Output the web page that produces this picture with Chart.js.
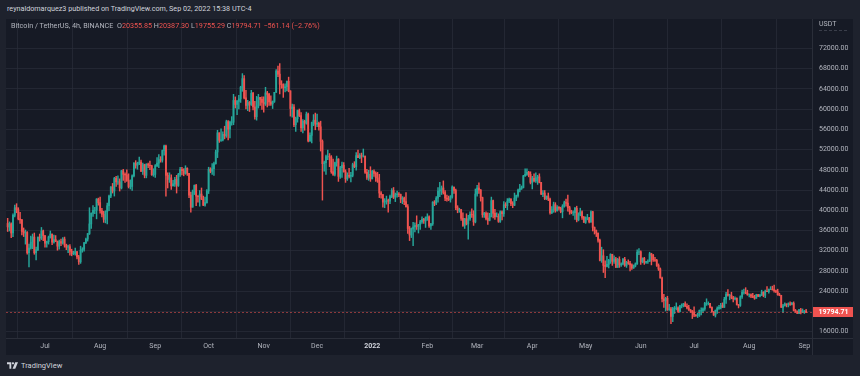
<!DOCTYPE html>
<html><head><meta charset="utf-8">
<script src="https://cdn.jsdelivr.net/npm/chart.js@4.4.1/dist/chart.umd.min.js"></script>
<style>
html,body{margin:0;padding:0;}
body{width:860px;height:376px;background:#1e222d;overflow:hidden;position:relative;font-family:Roboto,"Noto Sans",sans-serif;}
#hdr{position:absolute;left:7px;top:4px;font-size:7.2px;line-height:10px;color:#d1d4dc;white-space:nowrap;}
#panel{position:absolute;left:6px;top:19px;width:847px;height:336px;background:#161a25;}
#wrap{position:absolute;left:6px;top:19px;width:847px;height:336px;}
#legend{position:absolute;left:11px;top:21px;font-size:7.2px;line-height:9px;color:#b2b5be;white-space:nowrap;}
#legend .v{color:#ef5350;}
#usdt{position:absolute;left:819px;top:20px;font-size:7px;line-height:8px;color:#b2b5be;width:28px;padding-bottom:2px;border-bottom:1px dashed #3a3e4a;}
#foot{position:absolute;left:7px;top:361px;height:9px;display:flex;align-items:center;color:#d1d4dc;font-size:7.5px;white-space:nowrap;}
#foot svg{margin-right:3px;}
</style></head>
<body>
<div id="hdr">reynaldomarquez3 published on TradingView.com, Sep 02, 2022 15:38 UTC-4</div>
<div id="panel"></div>
<div id="wrap"><canvas id="c" width="847" height="336"></canvas></div>
<div id="legend">Bitcoin / TetherUS, 4h, BINANCE&nbsp;&nbsp;O<span class="v">20355.85</span> H<span class="v">20387.30</span> L<span class="v">19755.29</span> C<span class="v">19794.71</span> <span class="v">−561.14 (−2.76%)</span></div>
<div id="usdt">USDT</div>
<div id="foot"><svg width="11" height="7" viewBox="0 0 36 22"><path fill="#d1d4dc" d="M0 0h14v22H8V7H0z"/><circle fill="#d1d4dc" cx="19.5" cy="3.8" r="3.8"/><path fill="#d1d4dc" d="M27 0h9l-9 22h-9z"/></svg>TradingView</div>
<script>
// ---- data (prices in thousands of USDT), one daily candle per day starting at firstDay ----
const UNIT = 1000;
const firstDay = '2021-06-10';
const open = [
 37.4,36.7,37.3,35.5,39.0,40.5,40.1,38.3,38.1,35.8,35.5,35.6,31.6,32.5,33.7,34.7,31.6,32.2,34.7,34.5,35.9,
 35.0,33.5,33.8,34.7,35.3,33.7,34.2,33.9,32.9,33.8,33.5,34.3,33.1,32.7,32.8,31.9,31.4,31.5,31.8,30.8,29.8,32.1,32.3,33.6,34.3,35.4,37.3,39.4,40.0,40.0,42.2,
 41.5,39.9,39.2,38.2,39.7,40.9,42.8,44.6,43.8,46.3,45.6,45.6,44.4,47.8,47.1,47.0,45.9,44.7,44.7,46.8,49.3,48.9,49.3,49.5,47.7,49.0,46.9,49.1,48.9,48.8,47.0,
 47.1,48.8,49.3,50.0,49.9,51.8,52.7,46.9,46.1,46.4,44.8,45.2,46.1,44.9,47.1,48.1,47.8,47.3,48.3,47.3,43.0,40.6,43.6,44.9,42.8,42.7,43.2,42.2,41.0,41.5,
 43.8,48.1,47.7,48.2,49.2,51.5,55.3,53.8,53.9,55.0,54.7,57.5,56.0,57.4,57.4,61.7,60.9,61.5,62.0,64.3,66.0,62.2,60.7,61.3,60.9,63.1,60.4,58.5,60.6,62.3,61.9,
 61.3,61.0,63.2,62.9,61.4,61.0,61.5,63.3,67.5,66.9,64.9,64.8,64.2,64.4,65.5,63.6,60.1,60.4,56.9,58.1,59.7,58.7,56.3,57.6,57.2,59.0,53.7,54.8,57.3,57.8,
 57.0,57.2,56.5,53.6,49.2,49.4,50.6,50.6,50.5,47.6,47.1,49.4,50.1,46.7,48.4,48.9,47.6,46.2,46.9,46.7,46.9,49.0,48.6,50.8,50.4,50.8,50.7,50.7,47.5,46.5,47.1,
 46.2,47.7,47.3,46.4,45.8,43.4,43.1,41.6,41.7,41.9,41.8,42.7,43.9,42.6,43.1,43.2,43.1,42.2,42.4,41.7,40.7,36.4,35.1,36.3,36.7,37.0,36.8,37.2,37.7,38.2,37.9,
 38.5,38.7,36.9,37.3,41.6,41.4,42.4,43.8,44.0,44.4,43.5,42.4,42.2,42.1,42.6,44.6,43.9,40.5,40.0,40.1,38.4,37.0,38.3,37.3,38.3,39.2,39.1,37.7,
 43.2,44.4,44.0,42.5,39.1,39.4,38.4,38.0,38.7,41.9,39.4,38.7,38.8,37.8,39.7,39.3,41.1,40.9,41.8,42.2,41.3,41.0,42.4,42.9,44.0,44.3,44.5,46.8,47.1,47.5,47.1,
 45.5,46.3,45.8,46.4,46.6,45.5,43.2,43.4,42.3,42.8,42.2,39.5,40.1,41.1,39.9,40.6,40.4,39.7,40.8,41.5,41.4,40.5,39.7,39.5,39.5,40.4,38.1,39.2,39.7,38.6,
 37.6,38.5,38.5,37.7,39.7,36.6,36.0,35.5,34.1,30.1,31.0,29.1,28.9,29.3,30.1,31.3,29.9,30.4,28.7,30.3,29.2,29.4,30.3,29.1,29.7,29.5,29.2,28.6,29.0,29.4,31.7,
 31.8,29.8,30.5,29.7,29.9,29.9,31.4,31.1,30.2,30.1,29.1,28.4,26.6,22.5,22.1,22.6,20.4,20.5,19.0,20.6,20.6,20.7,20.0,21.1,21.2,21.5,21.0,20.7,20.3,20.1,
 19.9,19.3,19.2,19.3,20.2,20.2,20.5,21.6,21.6,21.6,20.8,19.9,19.3,20.2,20.6,20.8,21.2,20.8,22.4,23.4,23.2,23.2,22.7,22.5,22.6,21.3,21.2,22.9,23.8,23.8,23.6,
 23.3,23.3,23.0,22.8,22.6,23.3,23.0,23.2,23.8,23.2,24.0,23.9,24.4,24.4,24.3,24.1,23.9,23.3,23.2,20.8,21.1,21.5,21.4,21.5,21.4,21.6,20.2,20.0,19.6,20.3,19.8,
 20.05,20.1
];
const high = [
 38.4,37.7,37.5,39.3,41.0,41.3,40.5,39.6,38.2,36.5,36.1,35.8,33.3,34.9,35.3,35.5,32.7,34.7,35.3,36.6,36.1,
 35.0,33.9,34.9,35.9,35.3,35.1,35.0,33.9,34.1,34.3,34.6,34.7,33.3,33.1,33.2,32.3,31.9,32.5,31.9,31.1,32.9,32.6,33.6,34.5,35.4,40.5,39.5,40.9,40.6,42.3,42.4,
 42.6,40.4,39.8,39.9,41.4,43.0,44.7,45.3,46.5,46.7,46.8,46.2,47.9,48.1,47.4,48.0,47.2,46.0,47.0,49.4,49.8,49.5,50.5,49.9,49.3,49.1,49.2,49.3,49.7,48.9,48.2,
 49.0,50.4,51.0,50.6,51.9,52.9,52.9,47.4,47.4,47.0,45.9,46.5,46.9,47.3,48.5,48.5,48.2,48.8,48.4,47.3,43.6,44.0,45.0,45.1,42.9,43.9,44.4,42.8,42.6,44.1,
 48.5,48.4,49.2,49.5,51.9,55.8,55.3,56.1,55.5,56.6,57.8,57.7,57.6,58.5,62.9,62.4,61.7,62.7,64.5,67.0,66.6,63.7,61.7,61.5,63.7,63.3,61.5,62.5,62.9,62.3,62.4,
 62.4,64.3,63.5,63.1,62.6,61.6,63.3,67.8,68.5,69.0,65.6,65.0,65.0,65.5,66.3,63.6,61.0,60.9,58.4,59.8,60.0,59.3,57.9,57.8,59.4,59.2,55.3,57.4,58.9,59.2,
 59.0,57.4,57.6,53.9,49.7,50.9,51.9,51.2,50.8,50.1,49.5,50.7,50.2,48.7,49.5,49.4,48.0,47.4,48.3,47.5,49.3,49.6,51.4,51.9,51.2,51.3,52.1,50.7,48.1,47.9,48.6,
 47.9,48.0,47.6,47.5,47.1,43.7,43.1,42.3,42.8,42.2,43.0,44.3,44.5,43.4,43.8,43.5,43.2,42.7,42.6,43.5,41.1,36.8,36.5,37.6,37.5,38.9,37.2,38.0,38.7,38.4,38.7,
 39.3,38.9,37.4,41.7,41.9,42.7,44.5,45.5,44.8,45.8,43.9,43.0,42.8,42.9,44.8,44.6,44.2,40.9,40.4,40.2,39.5,38.4,39.3,39.0,39.7,40.3,39.9,44.2,
 44.9,45.4,44.1,42.6,39.6,39.7,39.5,39.4,42.6,42.0,40.2,39.5,39.3,39.9,39.9,41.7,41.5,42.3,42.4,42.3,41.7,43.4,43.0,44.2,45.1,44.8,46.9,48.2,48.2,47.7,47.6,
 46.7,47.2,47.4,46.9,47.2,45.5,43.9,43.9,42.8,43.4,42.4,40.7,41.6,41.5,40.9,40.7,40.6,41.1,41.8,42.2,43.0,40.8,40.0,39.9,40.6,40.8,39.5,40.4,39.9,38.8,
 38.7,39.2,38.6,39.9,39.8,36.7,36.1,35.5,34.3,32.7,32.2,30.0,30.9,30.3,31.4,31.3,31.0,30.7,30.5,30.8,29.6,30.5,30.7,29.9,30.2,29.9,29.4,29.2,29.6,32.2,32.4,
 32.0,30.6,30.7,29.9,30.2,31.7,31.5,31.3,30.7,30.3,29.4,28.6,26.8,23.4,22.8,23.0,21.4,20.8,20.8,21.0,21.7,20.9,21.2,21.5,21.6,21.9,21.5,21.2,20.4,20.2,
 20.9,19.4,19.7,20.3,20.7,20.7,21.8,22.5,21.9,21.6,20.9,20.0,20.3,20.9,21.2,21.6,21.7,22.8,23.8,24.3,23.4,23.8,23.0,22.9,22.7,21.4,23.1,24.2,24.4,24.7,24.2,
 23.5,23.5,23.6,23.2,23.4,23.4,23.4,24.2,23.9,24.2,24.9,24.4,24.9,25.0,25.2,24.2,24.4,23.6,23.2,21.4,21.7,21.5,21.7,21.9,21.8,21.9,20.4,20.1,20.4,20.6,20.5,
 20.2,20.4
];
const low = [
 35.8,35.9,34.6,34.8,38.7,39.5,38.1,37.4,35.1,34.8,33.3,31.3,28.8,32.3,32.4,31.3,30.2,32.0,33.9,34.2,34.0,
 32.7,32.7,33.3,34.5,33.2,33.5,33.8,32.1,32.3,33.0,33.3,32.7,32.2,31.6,31.1,31.0,31.2,31.1,30.4,29.3,29.5,31.7,31.9,33.4,33.9,35.2,36.4,38.8,39.3,38.3,41.0,
 39.4,38.7,37.6,37.5,37.3,39.9,42.5,43.4,42.8,44.7,45.1,43.8,44.2,45.9,45.5,45.7,44.4,44.2,43.9,46.6,48.3,48.1,49.0,47.6,47.1,46.4,46.4,48.4,48.0,46.9,46.7,
 46.5,48.6,48.4,49.5,49.5,50.9,42.8,44.4,45.5,44.1,44.8,44.7,43.4,44.7,46.7,47.0,46.8,47.1,46.9,42.5,39.6,40.6,43.1,40.9,41.6,40.8,42.1,40.9,40.8,41.4,
 43.3,47.4,47.1,46.9,49.1,50.4,53.4,53.6,53.7,54.1,54.4,53.9,54.3,56.8,56.9,60.2,58.9,60.0,61.3,63.5,62.0,60.0,59.7,59.5,60.7,59.8,58.0,57.8,60.2,60.7,59.9,
 59.4,60.7,60.4,60.7,60.7,60.1,61.3,63.3,66.4,63.0,64.1,62.3,63.4,63.6,63.4,58.6,58.4,56.5,55.6,57.4,58.5,55.6,55.3,55.8,57.0,53.5,53.6,53.3,56.7,55.9,
 56.5,55.8,51.7,42.0,47.7,47.1,50.0,48.6,47.3,46.9,46.8,48.7,45.7,46.3,46.5,47.5,45.5,45.9,46.4,45.6,46.6,48.4,47.9,50.4,50.2,49.4,50.5,47.3,46.1,45.9,45.7,
 46.2,46.7,45.7,45.5,42.5,42.4,40.6,40.5,41.2,39.6,41.3,42.5,42.3,41.7,42.6,42.7,41.5,41.3,41.1,40.6,35.4,34.0,34.6,33.0,35.7,36.2,35.5,36.2,37.4,37.4,36.6,
 38.0,36.6,36.2,37.0,40.9,41.1,41.6,42.7,43.1,43.2,41.9,41.8,41.9,41.6,42.4,43.3,40.1,39.5,39.6,38.0,36.8,36.4,37.1,34.3,38.0,38.6,37.0,37.5,
 42.8,43.3,41.8,38.6,38.6,38.1,37.2,37.9,38.7,38.5,38.2,38.7,37.6,37.6,38.1,38.8,40.5,40.1,41.5,40.9,40.5,40.9,41.9,42.6,43.6,44.1,44.4,46.7,46.9,46.6,45.2,
 44.2,45.6,45.5,45.1,45.4,43.1,42.7,42.1,42.1,41.9,39.2,39.3,39.6,39.6,39.8,40.0,39.5,38.5,40.6,40.8,39.8,39.2,39.3,39.0,38.2,37.7,37.9,38.9,38.2,37.6,
 37.4,38.1,37.5,37.6,35.9,35.3,34.8,33.7,30.0,29.7,27.7,26.7,28.8,28.6,29.5,29.1,29.5,28.7,28.7,28.7,28.9,29.2,28.9,28.7,29.3,28.0,28.3,28.5,28.8,29.3,31.2,
 29.3,29.6,29.3,29.5,29.5,29.9,29.2,29.9,29.9,28.9,28.1,26.6,21.9,20.8,20.1,20.2,20.2,17.6,18.0,19.6,20.3,19.8,19.9,20.7,20.9,21.0,20.5,20.2,19.8,18.6,
 18.97,19.0,18.8,19.0,19.3,19.8,20.2,21.2,21.3,20.7,19.9,19.2,18.9,19.6,20.4,20.5,20.8,20.8,21.6,23.0,22.3,22.5,21.9,22.3,21.3,20.7,21.0,22.6,23.4,23.5,23.2,
 22.85,22.7,22.7,22.4,22.6,22.9,22.85,23.15,22.9,22.7,23.9,23.6,24.3,24.2,23.8,23.7,23.2,23.1,20.8,19.8,21.1,20.9,20.9,21.2,21.3,20.1,19.8,19.6,19.55,19.5,19.8,
 19.6,19.75
];
const close = [
 36.7,37.3,35.5,39.0,40.5,40.1,38.3,38.1,35.8,35.5,35.6,31.6,32.5,33.7,34.7,31.6,32.2,34.7,34.5,35.9,35.0,
 33.5,33.8,34.7,35.3,33.7,34.2,33.9,32.9,33.8,33.5,34.3,33.1,32.7,32.8,31.9,31.4,31.5,31.8,30.8,29.8,32.1,32.3,33.6,34.3,35.4,37.3,39.4,40.0,40.0,42.2,41.5,
 39.9,39.2,38.2,39.7,40.9,42.8,44.6,43.8,46.3,45.6,45.6,44.4,47.8,47.1,47.0,45.9,44.7,44.7,46.8,49.3,48.9,49.3,49.5,47.7,49.0,46.9,49.1,48.9,48.8,47.0,47.1,
 48.8,49.3,50.0,49.9,51.8,52.7,46.9,46.1,46.4,44.8,45.2,46.1,44.9,47.1,48.1,47.8,47.3,48.3,47.3,43.0,40.6,43.6,44.9,42.8,42.7,43.2,42.2,41.0,41.5,43.8,
 48.1,47.7,48.2,49.2,51.5,55.3,53.8,53.9,55.0,54.7,57.5,56.0,57.4,57.4,61.7,60.9,61.5,62.0,64.3,66.0,62.2,60.7,61.3,60.9,63.1,60.4,58.5,60.6,62.3,61.9,61.3,
 61.0,63.2,62.9,61.4,61.0,61.5,63.3,67.5,66.9,64.9,64.8,64.2,64.4,65.5,63.6,60.1,60.4,56.9,58.1,59.7,58.7,56.3,57.6,57.2,59.0,53.7,54.8,57.3,57.8,57.0,
 57.2,56.5,53.6,49.2,49.4,50.6,50.6,50.5,47.6,47.1,49.4,50.1,46.7,48.4,48.9,47.6,46.2,46.9,46.7,46.9,49.0,48.6,50.8,50.4,50.8,50.7,50.7,47.5,46.5,47.1,46.2,
 47.7,47.3,46.4,45.8,43.4,43.1,41.6,41.7,41.9,41.8,42.7,43.9,42.6,43.1,43.2,43.1,42.2,42.4,41.7,40.7,36.4,35.1,36.3,36.7,37.0,36.8,37.2,37.7,38.2,37.9,38.5,
 38.7,36.9,37.3,41.6,41.4,42.4,43.8,44.0,44.4,43.5,42.4,42.2,42.1,42.6,44.6,43.9,40.5,40.0,40.1,38.4,37.0,38.3,37.3,38.3,39.2,39.1,37.7,43.2,
 44.4,44.0,42.5,39.1,39.4,38.4,38.0,38.7,41.9,39.4,38.7,38.8,37.8,39.7,39.3,41.1,40.9,41.8,42.2,41.3,41.0,42.4,42.9,44.0,44.3,44.5,46.8,47.1,47.5,47.1,45.5,
 46.3,45.8,46.4,46.6,45.5,43.2,43.4,42.3,42.8,42.2,39.5,40.1,41.1,39.9,40.6,40.4,39.7,40.8,41.5,41.4,40.5,39.7,39.5,39.5,40.4,38.1,39.2,39.7,38.6,37.6,
 38.5,38.5,37.7,39.7,36.6,36.0,35.5,34.1,30.1,31.0,29.1,28.9,29.3,30.1,31.3,29.9,30.4,28.7,30.3,29.2,29.4,30.3,29.1,29.7,29.5,29.2,28.6,29.0,29.4,31.7,31.8,
 29.8,30.5,29.7,29.9,29.9,31.4,31.1,30.2,30.1,29.1,28.4,26.6,22.5,22.1,22.6,20.4,20.5,19.0,20.6,20.6,20.7,20.0,21.1,21.2,21.5,21.0,20.7,20.3,20.1,19.9,
 19.3,19.2,19.3,20.2,20.2,20.5,21.6,21.6,21.6,20.8,19.9,19.3,20.2,20.6,20.8,21.2,20.8,22.4,23.4,23.2,23.2,22.7,22.5,22.6,21.3,21.2,22.9,23.8,23.8,23.6,23.3,
 23.3,23.0,22.8,22.6,23.3,23.0,23.2,23.8,23.2,24.0,23.9,24.4,24.4,24.3,24.1,23.9,23.3,23.2,20.8,21.1,21.5,21.4,21.5,21.4,21.6,20.2,20.0,19.6,20.3,19.8,20.05,
 20.1,19.79471
];
const tickDates  = ['2021-07-01','2021-08-01','2021-09-01','2021-10-01','2021-11-01','2021-12-01','2022-01-01','2022-02-01','2022-03-01','2022-04-01','2022-05-01','2022-06-01','2022-07-01','2022-08-01','2022-09-01'];
const tickLabels = ['Jul','Aug','Sep','Oct','Nov','Dec','2022','Feb','Mar','Apr','May','Jun','Jul','Aug','Sep'];
const priceTicks = [16000,20000,24000,28000,32000,36000,40000,44000,48000,52000,56000,60000,64000,68000,72000];

// ---- styling ----
const UP = '#26a69a', DOWN = '#ef5350', GRID = 'rgba(42,46,57,0.7)', SEP = '#2a2e39';
const dayOf = s => Math.round((Date.parse(s) - Date.parse(firstDay)) / 86400000);
const tickDays = tickDates.map(dayOf);
const yearTick = dayOf('2022-01-01');
const colors = close.map((c, i) => c >= open[i] ? UP : DOWN);

const wicks = close.map((c, i) => ({x: i, y: [low[i] * UNIT, high[i] * UNIT]}));
const bodies = close.map((c, i) => ({x: i, y: [open[i] * UNIT, close[i] * UNIT]}));

const framePlugin = {
  id: 'frame',
  afterDraw(chart) {
    const {ctx, chartArea: a, width, height, scales: {y}} = chart;
    ctx.save();
    ctx.strokeStyle = SEP; ctx.lineWidth = 1;
    ctx.beginPath();
    ctx.moveTo(Math.round(a.right) + 0.5, 0); ctx.lineTo(Math.round(a.right) + 0.5, height);
    ctx.moveTo(0, Math.round(a.bottom) + 0.5); ctx.lineTo(width, Math.round(a.bottom) + 0.5);
    ctx.stroke();
    // last price line and label
    const v = close[close.length - 1] * UNIT;
    const py = Math.round(y.getPixelForValue(v)) + 0.5;
    ctx.strokeStyle = 'rgba(239,83,80,0.55)';
    ctx.setLineDash([2, 2]);
    ctx.beginPath(); ctx.moveTo(a.left, py); ctx.lineTo(a.right, py); ctx.stroke();
    ctx.setLineDash([]);
    ctx.fillStyle = DOWN;
    ctx.fillRect(Math.round(a.right) + 1, py - 5.5, width - Math.round(a.right) - 1, 10);
    ctx.fillStyle = '#ffffff';
    ctx.font = 'bold 7px Roboto';
    ctx.textAlign = 'center'; ctx.textBaseline = 'middle';
    ctx.fillText(v.toFixed(2), (a.right + width) / 2 + 1, py - 0.3);
    ctx.restore();
  }
};

new Chart(document.getElementById('c'), {
  type: 'bar',
  data: {
    datasets: [
      {data: bodies, backgroundColor: colors, barThickness: 1.2, grouped: false, order: 1, borderWidth: 0, borderSkipped: false},
      {data: wicks, backgroundColor: colors, barThickness: 0.8, grouped: false, order: 2, borderWidth: 0, borderSkipped: false}
    ]
  },
  options: {
    responsive: false,
    animation: false,
    events: [],
    layout: {padding: 0},
    plugins: {legend: {display: false}, tooltip: {enabled: false}},
    scales: {
      x: {
        type: 'linear', min: -0.93, max: 452.3, offset: false,
        grid: {color: GRID, drawTicks: false, lineWidth: 1},
        border: {display: false},
        afterBuildTicks: s => { s.ticks = tickDays.map(v => ({value: v})); },
        afterFit: s => { s.height = 17; s.paddingLeft = 0; s.paddingRight = 0; },
        ticks: {
          autoSkip: false, maxRotation: 0, padding: 4,
          color: c => (c.tick && c.tick.value === yearTick) ? '#d1d4dc' : '#b2b5be',
          font: c => ({size: 7, family: 'Roboto', weight: (c.tick && c.tick.value === yearTick) ? 'bold' : 'normal'}),
          callback: (v, i) => tickLabels[i]
        }
      },
      y: {
        position: 'right', min: 14755, max: 77790,
        grid: {color: GRID, drawTicks: false, lineWidth: 1},
        border: {display: false},
        afterBuildTicks: s => { s.ticks = priceTicks.map(v => ({value: v})); },
        afterFit: s => { s.width = 41; s.paddingTop = 0; s.paddingBottom = 0; },
        ticks: {padding: 7, color: '#b2b5be', font: {size: 7, family: 'Roboto'}, callback: v => v.toFixed(2)}
      }
    }
  },
  plugins: [framePlugin]
});
</script>
</body></html>
